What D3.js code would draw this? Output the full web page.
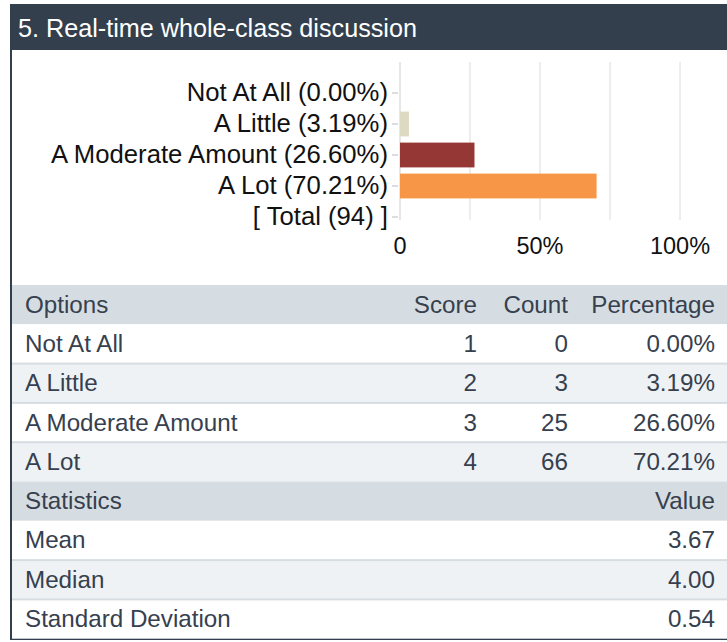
<!DOCTYPE html>
<html>
<head>
<meta charset="utf-8">
<script src="https://cdn.jsdelivr.net/npm/d3@7"></script>
<style>
  body { margin: 0; background: #fff; }
  svg { display: block; font-family: Arial, "Liberation Sans", sans-serif; }
</style>
</head>
<body>
<svg id="chart"></svg>
<script>
var width = 727;
var height = 642;

var title = "5. Real-time whole-class discussion";
var options = ["Not At All", "A Little", "A Moderate Amount", "A Lot"];
var scores = [1, 2, 3, 4];
var counts = [0, 3, 25, 66];
var percentages = [0.00, 3.19, 26.60, 70.21];
var total = 94;
var barColours = ["#4f81bd", "#ddd9c3", "#953735", "#f79646"];
var xTicks = [0, 50, 100];
var xGrid = [0, 25, 50, 75, 100];
var statNames = ["Mean", "Median", "Standard Deviation"];
var statValues = [3.67, 4.00, 0.54];

var svg = d3.select("#chart")
  .attr("width", width)
  .attr("height", height);

// frame + header
svg.append("rect")
  .attr("x", 10).attr("y", 4)
  .attr("width", width - 10).attr("height", 46)
  .attr("fill", "#343f4e");
svg.append("rect")
  .attr("x", 10).attr("y", 50)
  .attr("width", 2).attr("height", height - 52)
  .attr("fill", "#343f4e");
svg.append("rect")
  .attr("x", 10).attr("y", 638)
  .attr("width", width - 10).attr("height", 2)
  .attr("fill", "#343f4e");
svg.append("text")
  .attr("x", 18).attr("y", 37)
  .attr("fill", "#fff")
  .style("font-size", "25.2px")
  .text(title);

// bar chart
var cats = options.map(function(d, i){ return d + " (" + percentages[i].toFixed(2) + "%)"; });
cats.push("[ Total (" + total + ") ]");

var x = d3.scaleLinear().domain([0, 100]).range([400, 680]);
var y = d3.scaleBand().domain(cats).range([77.5, 232.5]).paddingInner(0.2).paddingOuter(0.1);

svg.append("g")
  .selectAll("line")
  .data(xGrid)
  .join("line")
  .attr("x1", d => x(d)).attr("x2", d => x(d))
  .attr("y1", 62).attr("y2", 220)
  .attr("stroke", d => d === 0 ? "#cfcfcf" : "#dcdcdc").attr("stroke-width", 1);

var yAxis = svg.append("g")
  .attr("transform", "translate(" + x(0) + ",0)")
  .call(d3.axisLeft(y).tickSize(8).tickPadding(4));
yAxis.select(".domain").remove();
yAxis.selectAll(".tick line").attr("stroke", "#bbb").attr("x1", -2);
yAxis.selectAll(".tick text")
  .attr("fill", "#111")
  .style("font-size", "25.7px")
  .style("font-family", "Arial, 'Liberation Sans', sans-serif");

svg.append("g")
  .selectAll("rect")
  .data(options)
  .join("rect")
  .attr("x", x(0))
  .attr("y", (d, i) => y(cats[i]))
  .attr("width", (d, i) => x(percentages[i]) - x(0))
  .attr("height", y.bandwidth())
  .attr("fill", (d, i) => barColours[i]);

svg.append("g")
  .selectAll("text")
  .data(xTicks)
  .join("text")
  .attr("x", d => x(d))
  .attr("y", 254)
  .attr("text-anchor", "middle")
  .attr("fill", "#111")
  .style("font-size", "23.5px")
  .text(d => d === 0 ? "0" : d + "%");

// table
var rowH = 39.3;
var top0 = 285;
var rows = [];
rows.push({ type: "head", cells: ["Options", "Score", "Count", "Percentage"] });
options.forEach(function(o, i){
  rows.push({ type: i % 2 ? "alt" : "body", cells: [o, scores[i], counts[i], percentages[i].toFixed(2) + "%"] });
});
rows.push({ type: "head", cells: ["Statistics", "", "", "Value"] });
statNames.forEach(function(s, i){
  rows.push({ type: i % 2 ? "alt" : "body", cells: [s, "", "", statValues[i].toFixed(2)] });
});

var colX = [25, 477, 568, 715];
var fills = { head: "#d6dde2", body: "#ffffff", alt: "#eef2f5" };

var rowG = svg.append("g")
  .selectAll("g")
  .data(rows)
  .join("g")
  .attr("transform", (d, i) => "translate(0," + (top0 + i * rowH) + ")");

rowG.append("rect")
  .attr("x", 12).attr("y", 0)
  .attr("width", width - 12).attr("height", rowH)
  .attr("fill", d => fills[d.type]);

rowG.filter((d, i) => i > 0 && d.type !== "head" && rows[i - 1].type !== "head")
  .append("rect")
  .attr("x", 12).attr("y", -1)
  .attr("width", width - 12).attr("height", 2)
  .attr("fill", "#d6dde2");

rowG.selectAll("text")
  .data(d => d.cells)
  .join("text")
  .attr("x", (d, i) => colX[i])
  .attr("y", rowH / 2 + 8)
  .attr("text-anchor", (d, i) => i === 0 ? "start" : "end")
  .attr("fill", "#36404e")
  .style("font-size", "24.2px")
  .text(d => d);
</script>
</body>
</html>
